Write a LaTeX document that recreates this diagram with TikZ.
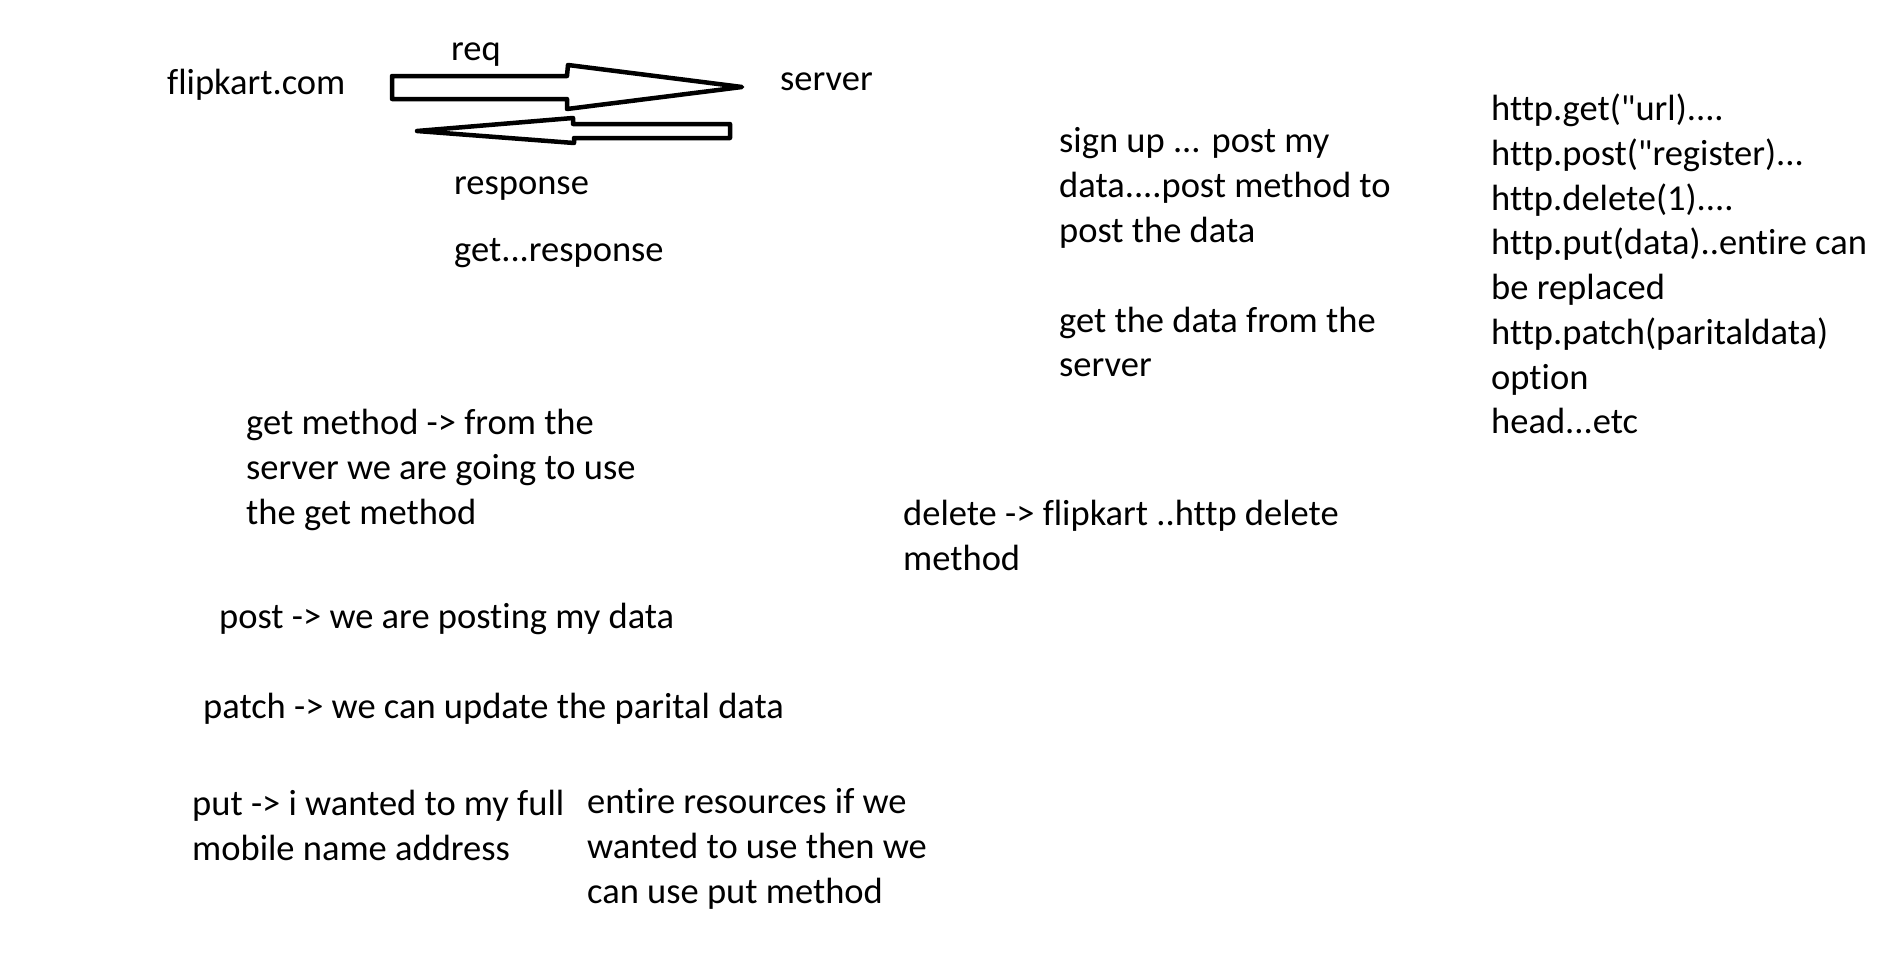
\documentclass[tikz,border=0pt]{standalone}
\usepackage{fontspec}
\setmainfont{Carlito}[Ligatures={TeXOff,NoCommon}]
\begin{document}
\begin{tikzpicture}[x=1pt,y=-1pt,
  txt/.style={anchor=base west,inner sep=0pt,font=\fontsize{36.5}{44.8}\selectfont},
  blockarrow/.style={draw=black,line width=4.5pt,line join=round,fill=white}]
\fill[white] (0,0) rectangle (1898,977);
\useasboundingbox (0,0) rectangle (1898,977);
% block arrows
\draw[blockarrow] (392,76) -- (567,76) -- (568,65) -- (742,87) -- (567,109) -- (567,99) -- (392,99) -- cycle;
\draw[blockarrow] (730,124) -- (573,124) -- (573,118) -- (417,131) -- (574,143) -- (574,138) -- (730,138) -- cycle;
% texts
\node[txt] (req) at (451,60) {req};
\node[txt] (flip) at (167,94) {flipkart.com};
\node[txt] (server) at (780,90) {server};
\node[txt] (resp) at (454,194) {response};
\node[txt] (getresp) at (454,261) {get...response};
\node[txt] (s1) at (1059,152) {sign up ... post my};
\node[txt] (s2) at (1059,197) {data....post method to};
\node[txt] (s3) at (1059,242) {post the data};
\node[txt] (g1) at (1059,332) {get the data from the};
\node[txt] (g2) at (1059,376) {server};
\node[txt] (h1) at (1491,120) {http.get("url)....};
\node[txt] (h2) at (1491,165) {http.post("register)...};
\node[txt] (h3) at (1491,210) {http.delete(1)....};
\node[txt] (h4) at (1491,254) {http.put(data)..entire can};
\node[txt] (h5) at (1491,299) {be replaced};
\node[txt] (h6) at (1491,344) {http.patch(paritaldata)};
\node[txt] (h7) at (1491,389) {option};
\node[txt] (h8) at (1491,433) {head...etc};
\node[txt] (m1) at (246,434) {get method -> from the};
\node[txt] (m2) at (246,479) {server we are going to use};
\node[txt] (m3) at (246,524) {the get method};
\node[txt] (d1) at (903,525) {delete -> flipkart ..http delete};
\node[txt] (d2) at (903,570) {method};
\node[txt] (post) at (219,628) {post -> we are posting my data};
\node[txt] (patch) at (203,718) {patch -> we can update the parital data};
\node[txt] (p1) at (192,815) {put -> i wanted to my full};
\node[txt] (p2) at (192,860) {mobile name address};
\node[txt] (e1) at (587,813) {entire resources if we};
\node[txt] (e2) at (587,858) {wanted to use then we};
\node[txt] (e3) at (587,903) {can use put method};
\end{tikzpicture}
\end{document}
